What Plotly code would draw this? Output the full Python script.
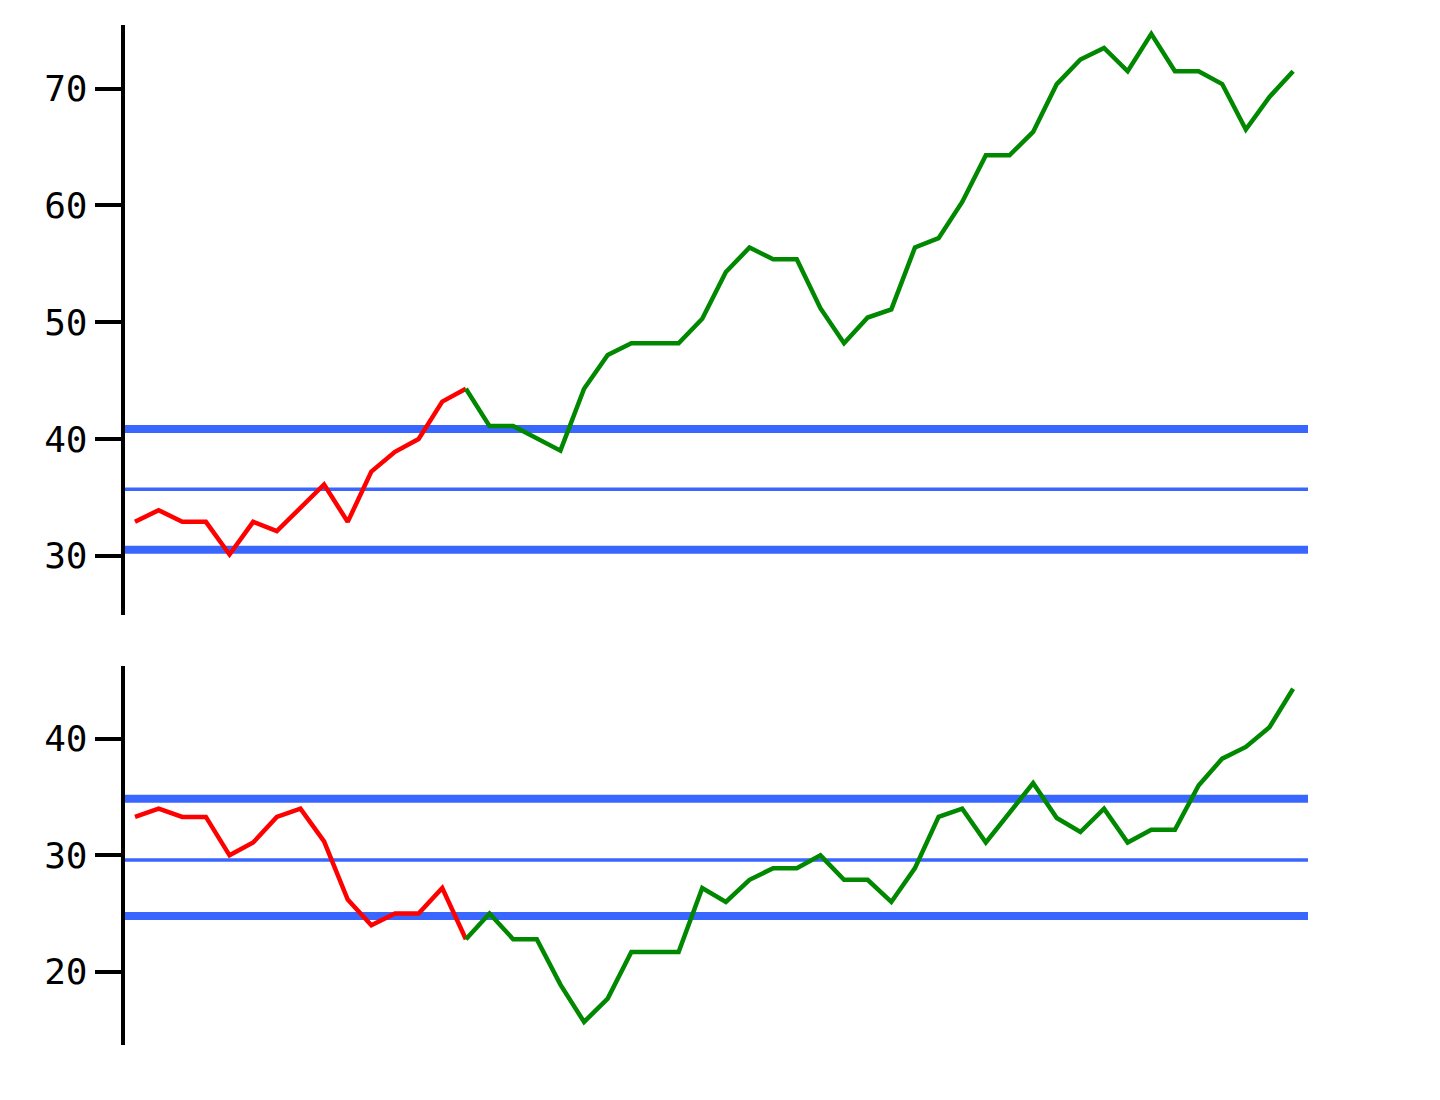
import plotly.graph_objects as go

# ---- data ----
top_values = [32.9, 33.9, 32.9, 32.9, 30.1, 32.9, 32.1, 34.1, 36.1, 32.9,
              37.2, 38.9, 40.0, 43.2, 44.3, 41.1, 41.1, 40.0, 39.0, 44.3,
              47.2, 48.2, 48.2, 48.2, 50.3, 54.3, 56.4, 55.4, 55.4, 51.2,
              48.2, 50.4, 51.1, 56.4, 57.2, 60.3, 64.3, 64.3, 66.3, 70.4,
              72.5, 73.5, 71.5, 74.7, 71.5, 71.5, 70.4, 66.5, 69.3, 71.5]
bottom_values = [33.3, 34.0, 33.3, 33.3, 30.0, 31.1, 33.3, 34.0, 31.2, 26.2,
                 24.0, 25.0, 25.0, 27.2, 22.8, 25.0, 22.8, 22.8, 18.9, 15.7,
                 17.7, 21.7, 21.7, 21.7, 27.2, 26.0, 27.9, 28.9, 28.9, 30.0,
                 27.9, 27.9, 26.0, 28.9, 33.3, 34.0, 31.1, 33.6, 36.2, 33.2,
                 32.0, 34.0, 31.1, 32.2, 32.2, 36.0, 38.3, 39.3, 41.0, 44.3]
baseline_count = 15  # first points drawn in red

top_bands = [40.85, 35.7, 30.5]       # upper, mean, lower
bottom_bands = [34.85, 29.6, 24.8]

top_ticks = [30, 40, 50, 60, 70]
bottom_ticks = [20, 30, 40]

# ---- styling ----
RED = "#ff0000"
GREEN = "#008800"
BLUE = "#3966ff"
FONT = "DejaVu Sans Mono"

x = list(range(len(top_values)))
split = baseline_count - 1

fig = go.Figure()

def add_series(values, xa, ya):
    fig.add_trace(go.Scatter(x=x[:split + 1], y=values[:split + 1], mode="lines",
                             line=dict(color=RED, width=4.5), xaxis=xa, yaxis=ya,
                             showlegend=False, hoverinfo="skip"))
    fig.add_trace(go.Scatter(x=x[split:], y=values[split:], mode="lines",
                             line=dict(color=GREEN, width=4.5), xaxis=xa, yaxis=ya,
                             showlegend=False, hoverinfo="skip"))

add_series(top_values, "x", "y")
add_series(bottom_values, "x2", "y2")

def add_bands(bands, xref, yref):
    widths = [8, 3.5, 8]
    for val, w in zip(bands, widths):
        fig.add_shape(type="line", xref=xref + " domain", yref=yref,
                      x0=0, x1=1, y0=val, y1=val, layer="below",
                      line=dict(color=BLUE, width=w))

add_bands(top_bands, "x", "y")
add_bands(bottom_bands, "x2", "y2")

yaxis_style = dict(showgrid=False, zeroline=False, showline=True,
                   linecolor="black", linewidth=4, ticks="outside",
                   ticklen=26, tickwidth=4, tickcolor="black",
                   tickfont=dict(family=FONT, size=36, color="black"))
xaxis_style = dict(visible=False, showgrid=False, zeroline=False,
                   range=[-0.436, 49.63])

fig.update_layout(
    width=1424, height=1084,
    margin=dict(l=0, r=0, t=0, b=0),
    paper_bgcolor="white", plot_bgcolor="white",
    xaxis=dict(domain=[0.08195, 0.91292], anchor="y", **xaxis_style),
    xaxis2=dict(domain=[0.08195, 0.91292], anchor="y2", **xaxis_style),
    yaxis=dict(domain=[0.44004, 0.98432], anchor="x", range=[24.92, 75.46],
               tickvals=top_ticks, **yaxis_style),
    yaxis2=dict(domain=[0.04336, 0.39299], anchor="x2", range=[13.72, 46.25],
                tickvals=bottom_ticks, **yaxis_style),
)

fig.write_html("out.html")
